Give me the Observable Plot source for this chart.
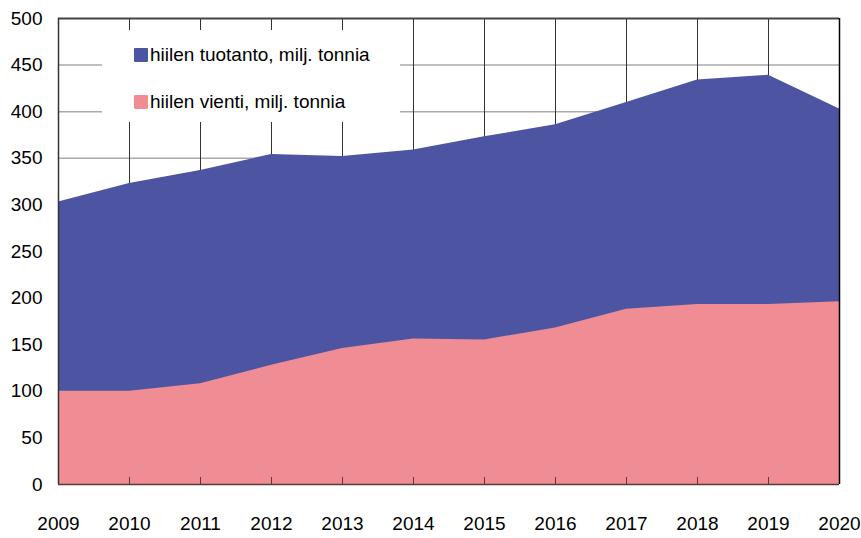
<!DOCTYPE html>
<html>
<head>
<meta charset="utf-8">
<script src="https://cdn.jsdelivr.net/npm/d3@7"></script>
<script src="https://cdn.jsdelivr.net/npm/@observablehq/plot@0.6"></script>
<style>
  body { margin: 0; background: #fff; font-family: "Liberation Sans", Arial, sans-serif; }
  #wrap { position: relative; width: 861px; height: 538px; }
  #legend { position: absolute; left: 102px; top: 30px; width: 298px; height: 92px; background: #fff; font-size: 19px; color: #000; }
  .item { position: absolute; left: 32px; display: flex; align-items: center; }
  .sw { width: 14px; height: 14px; margin-right: 2px; border-radius: 1px; }
</style>
</head>
<body>
<div id="wrap"><div id="legend"></div></div>
<script>
const years = [2009, 2010, 2011, 2012, 2013, 2014, 2015, 2016, 2017, 2018, 2019, 2020];
const production = [303, 323, 337, 354, 352, 359, 373, 386, 410, 434, 439, 403];
const exports_ = [100, 100, 108, 128, 146, 156, 155, 168, 188, 193, 193, 196];
const seriesNames = ["hiilen tuotanto, milj. tonnia", "hiilen vienti, milj. tonnia"];
const colors = ["#4d55a3", "#f08c94"];
const yTicks = [0, 50, 100, 150, 200, 250, 300, 350, 400, 450, 500];

const rows = years.map((y, i) => ({year: y, production: production[i], exports: exports_[i]}));

const plot = Plot.plot({
  width: 861,
  height: 538,
  marginLeft: 58,
  marginRight: 22,
  marginTop: 18,
  marginBottom: 54,
  style: {fontFamily: "'Liberation Sans', Arial, sans-serif", fontSize: "19px", color: "#000", background: "#fff"},
  x: {domain: [2009, 2020]},
  y: {domain: [0, 500]},
  marks: [
    Plot.ruleY(yTicks.slice(1, -1), {stroke: "#aaa", strokeWidth: 1.5}),
    Plot.ruleX(years.slice(1, -1), {stroke: "#333", strokeWidth: 1}),
    Plot.areaY(rows, {x: "year", y: "production", fill: colors[0]}),
    Plot.areaY(rows, {x: "year", y: "exports", fill: colors[1]}),
    Plot.ruleX(years.slice(1), {y1: 0, y2: 7.5, stroke: "#5a3a3a", strokeWidth: 1}),
    Plot.ruleY([500], {stroke: "#444", strokeWidth: 2}),
    Plot.ruleX([2020], {stroke: "#000", strokeWidth: 1.5}),
    Plot.ruleX([2009], {stroke: "#333", strokeWidth: 1.5}),
    Plot.ruleY([0], {stroke: "#5a3a3a", strokeWidth: 1.5}),
    Plot.axisY({ticks: yTicks, tickSize: 0, tickPadding: 16, label: null, fontSize: 19}),
    Plot.axisX({ticks: years, tickFormat: d => String(d), tickSize: 0, tickPadding: 32, label: null, fontSize: 19})
  ]
});

const wrap = document.getElementById("wrap");
wrap.insertBefore(plot, wrap.firstChild);

const legend = document.getElementById("legend");
const tops = [14, 61];
seriesNames.forEach((name, i) => {
  const item = document.createElement("div");
  item.className = "item";
  item.style.top = tops[i] + "px";
  const sw = document.createElement("div");
  sw.className = "sw";
  sw.style.background = colors[i];
  const t = document.createElement("span");
  t.textContent = name;
  item.appendChild(sw);
  item.appendChild(t);
  legend.appendChild(item);
});
</script>
</body>
</html>
